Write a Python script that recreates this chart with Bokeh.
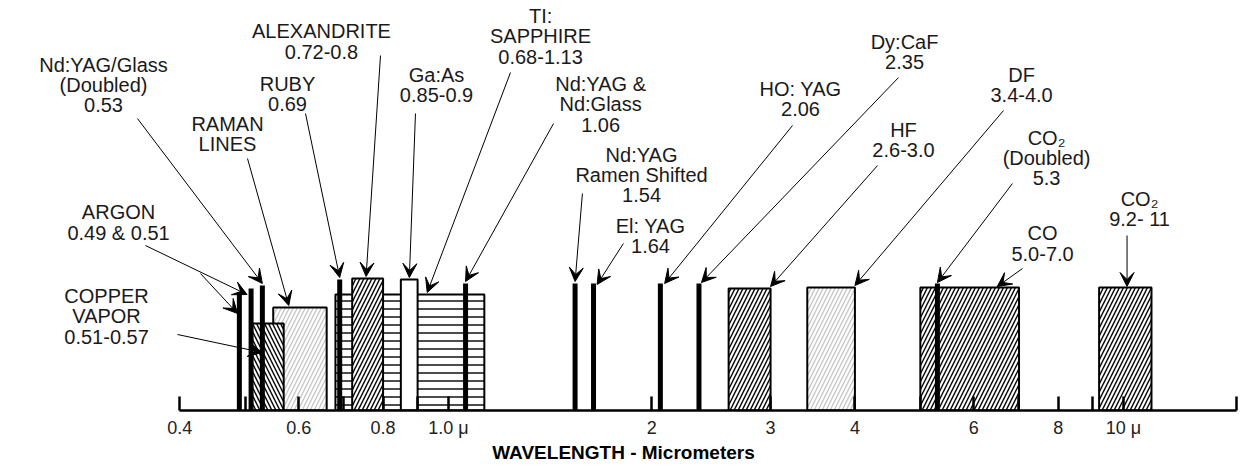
from bokeh.plotting import figure
from bokeh.models import Range1d, FixedTicker, Arrow, VeeHead, ColumnDataSource
from bokeh.core.properties import value
from bokeh.embed import file_html
from bokeh.resources import INLINE

# ---------------- data ----------------
# lasers that cover a band of wavelengths (micrometers)
band_names = ["TI:SAPPHIRE", "RAMAN LINES", "COPPER VAPOR", "ALEXANDRITE", "Ga:As",
              "HF", "DF", "CO", "CO2"]
band_lo = [0.68, 0.55, 0.51, 0.72, 0.85, 2.6, 3.4, 5.0, 9.2]
band_hi = [1.13, 0.66, 0.57, 0.80, 0.90, 3.0, 4.0, 7.0, 11.0]
band_height = [116, 103, 87, 132, 131, 122, 123, 123, 123]   # relative bar height

# lasers that emit single lines
line_names = ["ARGON", "ARGON", "Nd:YAG doubled", "RUBY", "Nd:YAG & Nd:Glass",
              "Nd:YAG Raman", "Er:YAG", "Ho:YAG", "Dy:CaF", "CO2 doubled"]
line_wl = [0.49, 0.51, 0.53, 0.69, 1.06, 1.54, 1.64, 2.06, 2.35, 5.3]
line_height = [118, 122, 125, 131, 127, 127, 127, 127, 127, 127]

# axis ticks
major_ticks = [0.4, 0.6, 0.8, 1.0, 2, 3, 4, 6, 8, 10]
minor_ticks = [0.5, 0.7, 0.9, 5, 7, 9, 14.7]
tick_labels = ["0.4", "0.6", "0.8", "1.0 \u03bc", "2", "3", "4", "6", "8", "10 \u03bc"]

# callout texts
label_text = [
    "Nd:YAG/Glass\n(Doubled)\n0.53",
    "ALEXANDRITE\n0.72-0.8",
    "RUBY\n0.69",
    "RAMAN\nLINES",
    "ARGON\n0.49 & 0.51",
    "COPPER\nVAPOR\n0.51-0.57",
    "TI:\nSAPPHIRE\n0.68-1.13",
    "Ga:As\n0.85-0.9",
    "Nd:YAG &\nNd:Glass\n1.06",
    "Nd:YAG\nRamen Shifted\n1.54",
    "El: YAG\n1.64",
    "HO: YAG\n2.06",
    "Dy:CaF\n2.35",
    "HF\n2.6-3.0",
    "DF\n3.4-4.0",
    "CO\u2082\n(Doubled)\n5.3",
    "CO\n5.0-7.0",
    "CO\u2082\n9.2- 11",
]

# ---------------- styles / annotation placement ----------------
band_hatch = ["-", "/", "\\", "/", " ", "/", "/", "/", "/"]
band_hatch_color = ["black", "#c8c8c8", "black", "black", "black",
                    "black", "#c8c8c8", "black", "black"]

label_x = [0.3083, 0.6484, 0.5774, 0.4706, 0.3245, 0.3115, 1.369, 0.960, 1.680,
           1.932, 1.992, 3.322, 4.738, 4.721, 7.063, 7.690, 7.586, 10.56]
label_y = [325.5, 369, 316.5, 276.5, 188, 94, 374, 325.5, 306,
           235.5, 174.5, 311.5, 358.5, 270.5, 325.5, 252.5, 167, 201.5]

arrow_x0 = [0.3461, 0.5038, 0.6140, 0.7930, 0.8935, 1.2354, 1.431, 1.579, 1.816,
            3.233, 4.642, 4.321, 6.641, 6.846, 7.085, 10.12, 0.3557, 0.4291, 0.3968]
arrow_y0 = [292, 252, 297, 355, 297, 338, 287, 217, 167,
            285, 333, 245, 300, 227, 142, 175, 165, 137, 76]
arrow_x1 = [0.53, 0.58, 0.69, 0.755, 0.875, 0.93, 1.06, 1.54, 1.66,
            2.09, 2.37, 3.0, 4.0, 5.3, 6.5, 10.12, 0.503, 0.487, 0.53]
arrow_y1 = [127, 105, 133, 134, 133, 118, 129, 129, 126,
            127, 128, 124, 125, 128, 124, 124, 116, 97, 58]

FONT = "Liberation Sans"

p = figure(frame_width=1246, frame_height=410,
           x_axis_type="log", x_range=Range1d(0.21695, 15.21), y_range=Range1d(0, 410),
           output_backend="svg", toolbar_location=None, min_border=0,
           y_axis_location=None, background_fill_color="white")
p.outline_line_color = None
p.xgrid.visible = False
p.ygrid.visible = False

# bands
for i in range(len(band_names)):
    p.quad(left=[band_lo[i]], right=[band_hi[i]], bottom=[0], top=[band_height[i]],
           fill_color="white", line_color="black", line_width=2,
           hatch_pattern=band_hatch[i], hatch_color=band_hatch_color[i],
           hatch_scale=8, hatch_weight=1.4)

# single lines
p.segment(x0=line_wl, y0=[0] * len(line_wl), x1=line_wl, y1=line_height,
          line_color="black", line_width=5, line_cap="butt")

# arrows
asrc = ColumnDataSource(dict(x0=arrow_x0, y0=arrow_y0, x1=arrow_x1, y1=arrow_y1))
p.add_layout(Arrow(source=asrc, x_start="x0", y_start="y0", x_end="x1", y_end="y1",
                   line_color="black", line_width=1,
                   end=VeeHead(size=14, fill_color="black", line_color="black", line_width=1)))

# labels
p.text(x=label_x, y=label_y, text=label_text, text_font=value(FONT),
       text_font_size="20px", text_align="center", text_baseline="middle",
       text_line_height=0.93, text_color="#1a1a1a")

# x axis
ax = p.xaxis[0]
ax.ticker = FixedTicker(ticks=major_ticks, minor_ticks=minor_ticks)
ax.major_label_overrides = {t: l for t, l in zip(major_ticks, tick_labels)}
ax.bounds = (0.4, 14.7)
ax.axis_line_width = 2.5
ax.axis_line_color = "black"
ax.major_tick_in = 14
ax.major_tick_out = 0
ax.minor_tick_in = 14
ax.minor_tick_out = 0
ax.major_tick_line_width = 2.5
ax.minor_tick_line_width = 2.5
ax.major_tick_line_color = "black"
ax.minor_tick_line_color = "black"
ax.major_label_text_font = FONT
ax.major_label_text_font_size = "18px"
ax.major_label_text_color = "#222222"
ax.major_label_standoff = 7
ax.axis_label = "WAVELENGTH - Micrometers"
ax.axis_label_text_font = FONT
ax.axis_label_text_font_size = "19px"
ax.axis_label_text_font_style = "bold"
ax.axis_label_text_color = "black"
ax.axis_label_standoff = 1

open("out.html", "w").write(file_html(p, INLINE))
